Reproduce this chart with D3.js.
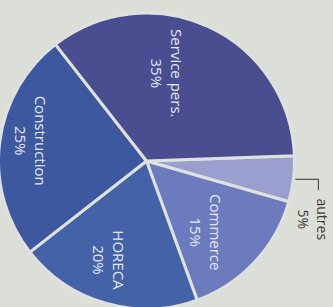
<!DOCTYPE html>
<html>
<head>
<meta charset="utf-8">
<script src="https://cdn.jsdelivr.net/npm/d3@7"></script>
<style>
  html, body { margin: 0; padding: 0; background: #dcded8; }
  svg { display: block; }
  .lbl { font-family: "Open Sans", sans-serif; font-size: 15px; }
  .lbl.out { font-size: 14px; }
</style>
</head>
<body>
<svg id="chart" width="333" height="307"></svg>
<script>
// données du graphique
const categories = ["autres", "Commerce", "HORECA", "Construction", "Service pers."];
const shares = [5, 15, 20, 25, 35];
const colors = ["#9a9fd0", "#6b7bbd", "#4462a8", "#3e58a0", "#4a4d90"];

// placement des étiquettes (rayon, décalage angulaire en degrés)
const labelPlace = {
  "Commerce": [93, 7],
  "HORECA": [106, 5],
  "Construction": [117, 3],
  "Service pers.": [90, -12]
};

const svg = d3.select('#chart');
const width = 333, height = 307;
const cx = 146.5, cy = 161, radius = 148;

svg.append('rect').attr('width', width).attr('height', height).attr('fill', '#dcded8');

const g = svg.append('g').attr('transform', `translate(${cx}, ${cy})`);

const data = categories.map((name, i) => ({ name, value: shares[i], color: colors[i] }));

// le camembert est tourné : "autres" commence presque à l'horizontale à droite
const start = 88 * Math.PI / 180;
const pie = d3.pie().value(d => d.value).sort(null)
  .startAngle(start).endAngle(start + 2 * Math.PI);
const arcs = pie(data);

const arc = d3.arc().innerRadius(0).outerRadius(radius);

g.selectAll('path.slice')
  .data(arcs)
  .join('path')
  .attr('class', 'slice')
  .attr('d', arc)
  .attr('fill', d => d.data.color)
  .attr('stroke', '#dfe2dc')
  .attr('stroke-width', 3)
  .attr('stroke-linejoin', 'round');

// étiquettes intérieures (texte tourné de 90°)
const inner = arcs.filter(d => labelPlace[d.data.name]);
const labels = g.selectAll('text.in')
  .data(inner)
  .join('text')
  .attr('class', 'lbl in')
  .attr('fill', '#e4e7f2')
  .attr('text-anchor', 'middle')
  .attr('transform', d => {
    const [r, off] = labelPlace[d.data.name];
    const a = (d.startAngle + d.endAngle) / 2 + off * Math.PI / 180;
    const x = r * Math.sin(a), y = -r * Math.cos(a);
    return `translate(${x}, ${y}) rotate(90)`;
  });
labels.append('tspan').attr('x', 0).attr('y', -4).text(d => d.data.name);
labels.append('tspan').attr('x', 0).attr('y', 16).text(d => d.data.value + '%');

// étiquette extérieure "autres" avec un petit trait
const other = arcs[0];
const oa = (other.startAngle + other.endAngle) / 2;
const ox = (radius + 2) * Math.sin(oa), oy = -(radius + 2) * Math.cos(oa);
g.append('path')
  .attr('d', `M${ox},${oy}H${ox + 23}V${oy + 11}`)
  .attr('fill', 'none')
  .attr('stroke', '#333')
  .attr('stroke-width', 1);

const ot = g.append('text')
  .attr('class', 'lbl out')
  .attr('fill', '#3a3a3a')
  .attr('text-anchor', 'middle')
  .attr('transform', `translate(${ox + 18}, ${oy + 40}) rotate(90)`);
ot.append('tspan').attr('x', 0).attr('y', -4).text(other.data.name);
ot.append('tspan').attr('x', 0).attr('y', 15).text(other.data.value + '%');
</script>
</body>
</html>
